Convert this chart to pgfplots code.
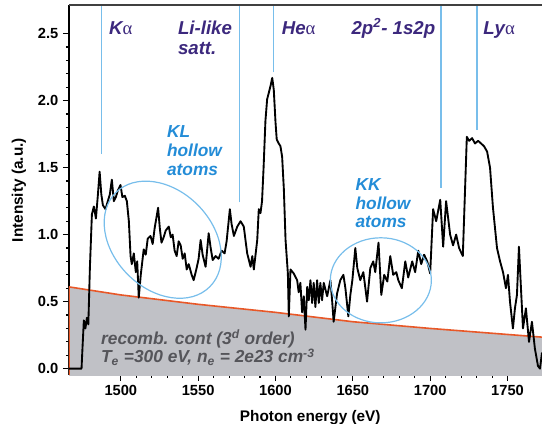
\documentclass[border=0pt]{standalone}
\usepackage{fontspec}
\setmainfont{Liberation Sans}
\newfontfamily\grk{Liberation Serif}
\usepackage{pgfplots}
\pgfplotsset{compat=1.18}
\usetikzlibrary{calc}

\definecolor{contfill}{RGB}{192,193,198}
\definecolor{contline}{RGB}{232,88,40}
\definecolor{mkblue}{RGB}{120,190,235}
\definecolor{hollowblue}{RGB}{35,140,215}
\definecolor{linepurple}{RGB}{60,40,125}
\definecolor{notegray}{RGB}{85,85,90}

\newcommand{\ga}{{\grk\mdseries\upshape α}}

\begin{document}
\begin{tikzpicture}
\begin{axis}[
  name=ax,
  scale only axis,
  width=354.75pt, height=277.1pt,
  xmin=1466.5, xmax=1772.3,
  ymin=-0.047, ymax=2.71,
  axis x line*=bottom, axis y line*=left,
  x axis line style={draw=contfill, -},
  y axis line style={line width=1.1pt, black, -},
  tick align=outside,
  xtick={1500,1550,...,1750}, minor x tick num=4,
  ytick={0,0.5,...,2.5}, minor y tick num=4,
  major tick length=4.5pt, minor tick length=2.3pt,
  every tick/.style={black, line width=0.8pt},
  /pgf/number format/assume math mode=true,
  tick label style={font=\bfseries\fontsize{11}{13}\selectfont},
  xticklabel style={/pgf/number format/set thousands separator={}},
  yticklabel style={/pgf/number format/.cd, fixed, fixed zerofill, precision=1},
  xlabel={Photon energy (eV)}, ylabel={Intensity (a.u.)},
  every axis x label/.style={at={(axis description cs:0.51,-0.1164)}, anchor=center,
    font=\bfseries\fontsize{11.5}{13}\selectfont},
  every axis y label/.style={at={(axis description cs:-0.1057,0.5)}, rotate=90, anchor=center,
    font=\bfseries\fontsize{11.5}{13}\selectfont},
]
% recombination continuum (shaded)
\addplot[draw=none, fill=contfill] coordinates {
  (1466.5,-0.047) (1466.5,0.61) (1500,0.55) (1550,0.48) (1600,0.42)
  (1650,0.35) (1700,0.30) (1750,0.255) (1772.3,0.235) (1772.3,-0.047)};
\addplot[contline, line width=1.2pt] coordinates {
  (1466.5,-0.047) (1466.5,0.61) (1500,0.55) (1550,0.48) (1600,0.42)
  (1650,0.35) (1700,0.30) (1750,0.255) (1772.3,0.235)};

% line markers
\addplot[mkblue, line width=1.2pt] coordinates {(1487.5,1.60) (1487.5,2.71)};
\addplot[mkblue, line width=1.2pt] coordinates {(1576.8,1.24) (1576.8,2.71)};
\addplot[mkblue, line width=1.2pt] coordinates {(1598.7,2.21) (1598.7,2.71)};
\addplot[mkblue, line width=1.2pt] coordinates {(1707.1,1.35) (1707.1,2.71)};
\addplot[mkblue, line width=1.2pt] coordinates {(1730.3,1.78) (1730.3,2.71)};

% measured spectrum
\addplot[black, line width=1.4pt, line join=round] table {
1466.5 0.00
1474.6 0.00
1475.2 0.15
1476.1 0.36
1477.1 0.30
1478.1 0.38
1479.0 0.33
1480.0 0.75
1481.3 1.15
1482.6 1.21
1483.9 1.12
1485.2 1.30
1486.3 1.47
1487.4 1.30
1488.4 1.22
1490.1 1.19
1491.6 1.25
1492.9 1.30
1494.2 1.41
1495.5 1.25
1496.8 1.28
1498.1 1.33
1499.8 1.37
1501.0 1.28
1502.6 1.29
1503.9 1.25
1505.2 1.10
1506.3 0.84
1507.1 0.78
1508.4 0.86
1509.7 0.72
1510.6 0.80
1511.6 0.53
1512.9 0.70
1514.8 0.89
1516.1 0.85
1517.4 0.97
1519.2 0.99
1520.6 0.93
1521.9 1.05
1524.1 1.20
1525.2 1.05
1526.3 0.94
1527.7 0.98
1529.0 1.03
1531.0 1.06
1532.3 0.98
1533.5 1.00
1534.8 0.88
1536.1 0.84
1537.4 0.95
1538.7 0.92
1540.0 0.82
1541.3 0.86
1542.6 0.74
1543.9 0.78
1545.8 0.70
1547.1 0.66
1549.0 0.75
1550.3 0.82
1551.6 0.96
1552.9 0.85
1554.8 0.76
1556.8 1.01
1558.1 0.90
1559.4 0.81
1561.3 0.84
1563.2 0.82
1565.2 0.88
1567.1 0.86
1568.4 0.95
1570.5 1.19
1571.6 1.08
1573.1 0.99
1575.3 1.06
1577.4 1.10
1579.5 1.06
1581.7 0.86
1583.9 0.76
1585.0 0.84
1586.0 0.74
1588.2 0.96
1589.2 1.19
1590.3 1.16
1591.3 1.25
1592.3 1.50
1593.5 1.85
1594.6 2.01
1595.7 2.06
1596.8 2.11
1597.9 2.17
1598.9 2.08
1600.0 1.84
1600.8 1.71
1602.1 1.68
1603.2 1.66
1604.3 1.58
1605.4 1.34
1606.5 0.96
1608.0 0.71
1608.6 0.39
1609.7 0.74
1611.8 0.71
1614.0 0.66
1615.0 0.57
1616.1 0.64
1617.2 0.42
1618.3 0.54
1619.4 0.29
1620.5 0.61
1621.5 0.51
1622.6 0.66
1623.7 0.49
1624.7 0.64
1625.8 0.46
1626.9 0.66
1628.0 0.49
1629.0 0.64
1630.1 0.51
1631.2 0.64
1633.4 0.54
1635.5 0.66
1636.6 0.51
1637.6 0.35
1639.8 0.56
1641.9 0.66
1643.9 0.70
1645.2 0.60
1647.1 0.39
1648.4 0.55
1649.7 0.66
1651.6 0.90
1652.9 0.75
1654.8 0.66
1656.8 0.72
1659.2 0.50
1661.3 0.75
1663.2 0.80
1664.5 0.72
1666.6 0.94
1668.4 0.55
1670.3 0.70
1672.3 0.65
1674.2 0.84
1676.1 0.70
1678.1 0.72
1679.4 0.66
1681.7 0.60
1683.9 0.80
1685.8 0.68
1688.4 0.80
1690.3 0.72
1692.3 0.88
1694.2 0.78
1696.1 0.85
1698.1 0.80
1700.0 0.71
1701.9 1.19
1703.9 1.10
1706.5 1.26
1708.4 0.91
1710.3 1.25
1712.9 1.00
1714.8 0.92
1716.8 1.00
1718.7 0.90
1721.1 0.84
1722.3 1.25
1723.7 1.73
1725.2 1.70
1727.1 1.72
1729.0 1.68
1731.0 1.70
1732.9 1.68
1734.8 1.66
1736.8 1.62
1738.7 1.50
1740.6 1.20
1741.9 1.05
1743.2 0.90
1745.2 0.80
1747.1 0.72
1749.0 0.60
1750.3 0.70
1751.6 0.50
1753.5 0.30
1754.8 0.45
1756.1 0.55
1757.4 0.91
1758.7 0.60
1760.0 0.30
1761.9 0.45
1763.9 0.20
1765.8 0.35
1767.7 0.15
1769.7 0.02
1771.0 0.00
1772.3 0.12
};

% hollow-atom regions
\draw[mkblue, line width=0.9pt, rotate around={-45:(axis cs:1527.1,0.962)}]
  (axis cs:1527.1,0.962) ellipse (49.9pt and 37pt);
\draw[mkblue, line width=0.9pt] (axis cs:1668.1,0.659) ellipse (37.9pt and 31.9pt);

% line labels
\begin{scope}[every node/.style={inner sep=0pt, anchor=base west, text=linepurple,
    font=\bfseries\itshape\fontsize{14}{16}\selectfont}]
\node at (axis cs:1492.3,2.49) {K\ga};
\node at (axis cs:1536.8,2.49) {Li-like};
\node at (axis cs:1536.8,2.344) {satt.};
\node at (axis cs:1603.9,2.49) {He\ga};
\node at (axis cs:1649.0,2.49) {2p\textsuperscript{2}- 1s2p};
\node at (axis cs:1734.2,2.49) {Ly\ga};
\end{scope}

\begin{scope}[every node/.style={inner sep=0pt, anchor=base west, text=hollowblue,
    font=\bfseries\itshape\fontsize{13}{15}\selectfont}]
\node at (axis cs:1529.7,1.724) {KL};
\node at (axis cs:1529.7,1.582) {hollow};
\node at (axis cs:1529.7,1.440) {atoms};
\node at (axis cs:1651.6,1.328) {KK};
\node at (axis cs:1651.6,1.186) {hollow};
\node at (axis cs:1651.6,1.055) {atoms};
\end{scope}

\begin{scope}[every node/.style={inner sep=0pt, anchor=base west, text=notegray,
    font=\bfseries\itshape\fontsize{13}{15}\selectfont}]
\node at (axis cs:1487.1,0.182) {recomb. cont (3\textsuperscript{d} order)};
\node at (axis cs:1487.1,0.043) {T\textsubscript{e} =300 eV, n\textsubscript{e} = 2e23 cm\textsuperscript{-3}};
\end{scope}
\end{axis}
\draw[line width=1.5pt, black!75] (ax.north west) -- (ax.north east);
\pgfresetboundingbox
\path[use as bounding box] ($(ax.south west)+(-51.75pt,-36.75pt)$) rectangle ($(ax.north east)+(0pt,4.1pt)$);
\end{tikzpicture}
\end{document}
